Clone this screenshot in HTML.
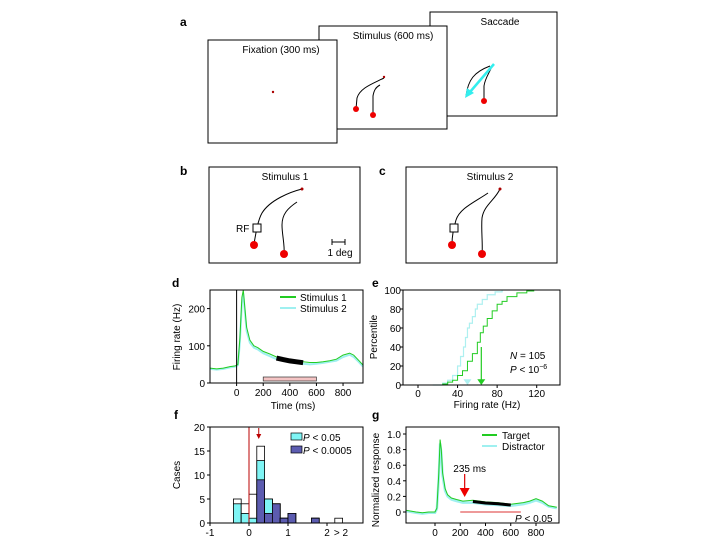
<!DOCTYPE html>
<html><head><meta charset="utf-8"><style>
body{margin:0;background:#fff}
svg{display:block;font-family:"Liberation Sans",Arial,sans-serif}
</style></head><body>
<svg id="fig" width="720" height="540" viewBox="0 0 720 540" xmlns="http://www.w3.org/2000/svg">
<!-- Panel a -->
<g>
<text x="180" y="26" font-size="12" font-weight="bold">a</text>
<rect x="430" y="12" width="127" height="104" fill="#fff" stroke="#000"/>
<text x="500" y="25" font-size="10" text-anchor="middle">Saccade</text>
<path d="M466,96 C468,80 474,72 490,66" fill="none" stroke="#000" stroke-width="1"/>
<path d="M484,100 L484,86 C485,78 490,72 492,66" fill="none" stroke="#000" stroke-width="1"/>
<circle cx="484" cy="101" r="3" fill="#e00"/>
<line x1="494" y1="64" x2="470" y2="92" stroke="#3ee" stroke-width="2.5"/>
<polygon points="465,98 467,88 474,93" fill="#3ee"/>
<rect x="319" y="26" width="128" height="103" fill="#fff" stroke="#000"/>
<text x="393" y="39" font-size="10" text-anchor="middle">Stimulus (600 ms)</text>
<path d="M356,109 L357,98 C360,88 372,84 384,78" fill="none" stroke="#000"/>
<path d="M373,115 L373,96 C374,90 376,87 380,85" fill="none" stroke="#000"/>
<circle cx="356" cy="109" r="3" fill="#e00"/><circle cx="373" cy="115" r="3" fill="#e00"/>
<circle cx="384" cy="77" r="1.2" fill="#a00"/>
<rect x="208" y="40" width="129" height="103" fill="#fff" stroke="#000"/>
<text x="281" y="53" font-size="10" text-anchor="middle">Fixation (300 ms)</text>
<circle cx="273" cy="92" r="1.2" fill="#a00"/>
</g>
<!-- Panel b -->
<g>
<text x="180" y="175" font-size="12" font-weight="bold">b</text>
<rect x="209" y="167" width="151" height="96" fill="#fff" stroke="#000"/>
<text x="285" y="180" font-size="10" text-anchor="middle">Stimulus 1</text>
<path d="M302,189 C290,192 270,200 262,213 C258,220 256,232 254,244" fill="none" stroke="#000"/>
<path d="M297,202 C288,208 282,214 282,225 C282,235 285,245 284,254" fill="none" stroke="#000"/>
<rect x="253" y="224" width="8" height="8" fill="#fff" stroke="#000"/>
<text x="236" y="232" font-size="10">RF</text>
<circle cx="254" cy="245" r="4" fill="#e00"/><circle cx="284" cy="254" r="4" fill="#e00"/>
<circle cx="302" cy="189" r="1.5" fill="#a00"/>
<line x1="332" y1="242" x2="345" y2="242" stroke="#000"/><line x1="332" y1="239" x2="332" y2="245" stroke="#000"/><line x1="345" y1="239" x2="345" y2="245" stroke="#000"/>
<text x="340" y="256" font-size="10" text-anchor="middle">1 deg</text>
</g>
<!-- Panel c -->
<g>
<text x="379" y="175" font-size="12" font-weight="bold">c</text>
<rect x="406" y="167" width="151" height="96" fill="#fff" stroke="#000"/>
<text x="490" y="180" font-size="10" text-anchor="middle">Stimulus 2</text>
<path d="M488,193 C475,202 460,208 456,220 C453,230 452,238 452,244" fill="none" stroke="#000"/>
<path d="M500,189 C495,200 484,205 482,218 C481,230 483,245 482,254" fill="none" stroke="#000"/>
<rect x="450" y="224" width="8" height="8" fill="#fff" stroke="#000"/>
<circle cx="452" cy="245" r="4" fill="#e00"/><circle cx="482" cy="254" r="4" fill="#e00"/>
<circle cx="500" cy="189" r="1.5" fill="#a00"/>
</g>
<g id="charts"></g>
</svg>
<script>
// ---- Panel d data ----
const dTimes = [-200,-150,-100,-50,-10,10,25,40,50,60,75,100,130,160,200,250,300,350,400,450,500,550,600,650,700,750,800,850,880,920,950];
const dStim1 = [40,38,40,44,46,50,120,230,250,210,150,115,100,95,85,78,70,66,62,60,57,55,55,57,60,64,75,80,75,60,48];
const dStim2 = [38,36,38,42,44,48,110,215,240,200,140,108,95,90,80,72,64,60,57,54,52,50,52,54,57,60,70,76,70,56,44];
const dSigStart = 280, dSigEnd = 530;
const dYTicks = [0,100,200];
const dXTicks = [0,200,400,600,800];
// ---- Panel e data ----
const eRates1 = [10,25,30,35,40,45,50,55,60,63,66,70,75,80,85,90,100,110,117];
const ePct1 =   [0, 1, 3, 5, 10,15,25,33,45,55,62,70,78,85,88,93, 97, 99, 100];
const eRates2 = [15,25,30,35,40,43,46,48,50,52,55,58,60,65,70,78,85];
const ePct2 =   [0, 2, 5, 10,20,30,40,50,60,65,72,80,85,90,95,98,100];
const eMed1 = 64, eMed2 = 50;
const eXTicks = [0,40,80,120];
const eYTicks = [0,20,40,60,80,100];
// ---- Panel f data ----
const fBinStarts = [-0.4,-0.2,0,0.2,0.4,0.6,0.8,1.0,1.6,2.2];
const fTotal = [5,4,6,16,5,4,1,2,1,1];
const fCyan  = [4,2,1,13,5,4,1,2,1,0];
const fBlue  = [0,0,0,9,2,4,1,2,1,0];
const fYTicks = [0,5,10,15,20];
const fXTicks = ["-1","0","1","2"];
const fXTickVals = [-1,0,1,2];
// ---- Panel g data ----
const gTimes = [-225,-150,-100,-50,0,15,30,40,50,60,80,100,130,170,220,300,400,500,600,700,750,800,850,900,965];
const gTarget = [0.02,0,-0.01,0,0,0.05,0.5,0.93,0.8,0.5,0.3,0.22,0.18,0.16,0.14,0.15,0.13,0.12,0.1,0.12,0.14,0.17,0.14,0.08,0.06];
const gDistr  = [0.01,-0.01,-0.02,-0.01,-0.01,0.04,0.45,0.88,0.76,0.46,0.27,0.2,0.16,0.14,0.12,0.12,0.1,0.09,0.08,0.1,0.12,0.15,0.12,0.07,0.05];
const gLatency = 235;
const gYTicks = [0,0.2,0.4,0.6,0.8,1.0];
const gXTicks = [0,200,400,600,800];

const NS='http://www.w3.org/2000/svg';
const root=document.getElementById('charts');
function mk(tag,attrs,parent){const e=document.createElementNS(NS,tag);for(const k in attrs)e.setAttribute(k,attrs[k]);(parent||root).appendChild(e);return e;}
function txt(x,y,s,size,anchor,parent){const t=mk('text',{x:x,y:y,'font-size':size,'text-anchor':anchor||'middle'},parent);t.textContent=s;return t;}
function lin(d0,d1,r0,r1){return v=>r0+(v-d0)*(r1-r0)/(d1-d0);}
function pathOf(xs,ys,X,Y){return xs.map((v,i)=>(i?'L':'M')+X(v).toFixed(1)+','+Y(ys[i]).toFixed(1)).join('');}
function stepOf(xs,ys,X,Y){let d='M'+X(xs[0])+','+Y(ys[0]);for(let i=1;i<xs.length;i++){d+='L'+X(xs[i])+','+Y(ys[i-1])+'L'+X(xs[i])+','+Y(ys[i]);}return d;}

// ===== Panel d =====
{
const g=mk('g',{});


const X=lin(-200,950,210,363), Y=lin(0,250,383,290);
const l=txt(172,287,'d',12,'start',g); l.setAttribute('font-weight','bold');


const c1=mk('path',{d:pathOf(dTimes,dStim2,X,Y),fill:'none',stroke:'#9ff0f0','stroke-width':2},g);


const c2=mk('path',{d:pathOf(dTimes,dStim1,X,Y),fill:'none',stroke:'#2c2','stroke-width':1},g);


const si=[];dTimes.forEach((t,i)=>{if(t>=dSigStart&&t<=dSigEnd)si.push(i);});
const sig=mk('path',{d:pathOf(si.map(i=>dTimes[i]),si.map(i=>(dStim1[i]+dStim2[i])/2),X,Y),fill:'none',stroke:'#000','stroke-width':5},g);


mk('line',{x1:X(0),y1:290,x2:X(0),y2:383,stroke:'#000'},g);
const bar=mk('rect',{x:X(200),y:377,width:X(600)-X(200),height:4,fill:'#f4c4c4',stroke:'#333','stroke-width':0.7},g);


mk('rect',{x:210,y:290,width:153,height:93,fill:'none',stroke:'#000'},g);
dYTicks.forEach(v=>{mk('line',{x1:207,x2:210,y1:Y(v),y2:Y(v),stroke:'#000'},g);txt(205,Y(v)+4,String(v),10,'end',g);});
dXTicks.forEach(v=>{mk('line',{x1:X(v),x2:X(v),y1:383,y2:386,stroke:'#000'},g);txt(X(v),396,String(v),10,'middle',g);});
const xt=txt(293,409,'Time (ms)',10,'middle',g);


const yt=txt(0,0,'Firing rate (Hz)',10,'middle',g);yt.setAttribute('transform','translate(180,337) rotate(-90)');


mk('line',{x1:280,x2:296,y1:297,y2:297,stroke:'#2c2','stroke-width':2},g);txt(300,301,'Stimulus 1',10,'start',g);
mk('line',{x1:280,x2:296,y1:308,y2:308,stroke:'#9ff0f0','stroke-width':2},g);txt(300,312,'Stimulus 2',10,'start',g);
}
// ===== Panel e =====
{
const g=mk('g',{});


const X=lin(0,120,418,536.7), Y=lin(0,100,385,290);
const l=txt(372,287,'e',12,'start',g); l.setAttribute('font-weight','bold');


const c2=mk('path',{d:stepOf(eRates2,ePct2,X,Y),fill:'none',stroke:'#aef0f0','stroke-width':1.2},g);


const c1=mk('path',{d:stepOf(eRates1,ePct1,X,Y),fill:'none',stroke:'#2c2','stroke-width':1},g);


mk('line',{x1:X(eMed1),x2:X(eMed1),y1:Y(40),y2:Y(3),stroke:'#2c2','stroke-width':1.2},g);
const a1=mk('polygon',{points:`${X(eMed1)-4},${Y(6)} ${X(eMed1)+4},${Y(6)} ${X(eMed1)},${Y(0)}`,fill:'#2c2'},g);


const a2=mk('polygon',{points:`${X(eMed2)-4},${Y(6)} ${X(eMed2)+4},${Y(6)} ${X(eMed2)},${Y(0)}`,fill:'#aef0f0'},g);


mk('rect',{x:403,y:290,width:157,height:95,fill:'none',stroke:'#000'},g);
eYTicks.forEach(v=>{mk('line',{x1:400,x2:403,y1:Y(v),y2:Y(v),stroke:'#000'},g);txt(401,Y(v)+4,String(v),10,'end',g);});
eXTicks.forEach(v=>{mk('line',{x1:X(v),x2:X(v),y1:385,y2:388,stroke:'#000'},g);txt(X(v),397,String(v),10,'middle',g);});
const xt=txt(487,408,'Firing rate (Hz)',10,'middle',g);


const yt=txt(0,0,'Percentile',10,'middle',g);yt.setAttribute('transform','translate(377,337) rotate(-90)');


const n=mk('text',{x:510,y:359,'font-size':10},g);n.innerHTML='<tspan font-style="italic">N</tspan> = 105';
const p=mk('text',{x:510,y:373,'font-size':10},g);p.innerHTML='<tspan font-style="italic">P</tspan> &lt; 10<tspan dy="-4" font-size="7">−6</tspan>';
}
// ===== Panel f =====
{
const g=mk('g',{});


const X=lin(-1,2,210,327), Y=lin(0,20,523,427);
const bw=0.2;
const l=txt(174,419,'f',12,'start',g); l.setAttribute('font-weight','bold');


fBinStarts.forEach((b,i)=>{
  const x=X(b),w=X(b+bw)-X(b);
  const r=mk('rect',{x:x,y:Y(fTotal[i]),width:w,height:Y(0)-Y(fTotal[i]),fill:'#fff',stroke:'#000','stroke-width':0.8},g);
  
  
  if(fCyan[i]>0){const c=mk('rect',{x:x,y:Y(fCyan[i]),width:w,height:Y(0)-Y(fCyan[i]),fill:'#7ff5f5',stroke:'#000','stroke-width':0.8},g);
  
  }
  if(fBlue[i]>0){const c=mk('rect',{x:x,y:Y(fBlue[i]),width:w,height:Y(0)-Y(fBlue[i]),fill:'#5c5cb0',stroke:'#000','stroke-width':0.8},g);
  
  }
});
const rl=mk('line',{x1:X(0),x2:X(0),y1:427,y2:523,stroke:'#b00','stroke-width':1},g);


mk('line',{x1:X(0.25),x2:X(0.25),y1:428,y2:436,stroke:'#b00'},g);
mk('polygon',{points:`${X(0.25)-2.5},434 ${X(0.25)+2.5},434 ${X(0.25)},439`,fill:'#b00'},g);
mk('rect',{x:210,y:427,width:153,height:96,fill:'none',stroke:'#000'},g);
fYTicks.forEach(v=>{mk('line',{x1:207,x2:210,y1:Y(v),y2:Y(v),stroke:'#000'},g);txt(205,Y(v)+4,String(v),10,'end',g);});
fXTickVals.forEach((v,i)=>{mk('line',{x1:X(v),x2:X(v),y1:523,y2:526,stroke:'#000'},g);txt(X(v),536,fXTicks[i],10,'middle',g);});
txt(341,536,'> 2',10,'middle',g);
const yt=txt(0,0,'Cases',10,'middle',g);yt.setAttribute('transform','translate(180,475) rotate(-90)');


mk('rect',{x:291,y:433,width:11,height:7,fill:'#7ff5f5',stroke:'#000','stroke-width':0.7},g);
const t1=mk('text',{x:303,y:441,'font-size':10},g);t1.innerHTML='<tspan font-style="italic">P</tspan> &lt; 0.05';
mk('rect',{x:291,y:446,width:11,height:7,fill:'#5c5cb0',stroke:'#000','stroke-width':0.7},g);
const t2=mk('text',{x:303,y:454,'font-size':10},g);t2.innerHTML='<tspan font-style="italic">P</tspan> &lt; 0.0005';
}
// ===== Panel g =====
{
const g=mk('g',{});


const X=lin(0,800,435,536), Y=lin(0,1,512,434);
const l=txt(372,419,'g',12,'start',g); l.setAttribute('font-weight','bold');


const c2=mk('path',{d:pathOf(gTimes,gDistr,X,Y),fill:'none',stroke:'#9ff0f0','stroke-width':2.5},g);


const c1=mk('path',{d:pathOf(gTimes,gTarget,X,Y),fill:'none',stroke:'#2c2','stroke-width':1},g);


const si=[];gTimes.forEach((t,i)=>{if(t>=gLatency&&t<=600)si.push(i);});
const sig=mk('path',{d:pathOf(si.map(i=>gTimes[i]),si.map(i=>(gTarget[i]+gDistr[i])/2),X,Y),fill:'none',stroke:'#000','stroke-width':3},g);


const rl=mk('line',{x1:X(200),x2:X(680),y1:Y(0),y2:Y(0),stroke:'#d33','stroke-width':1},g);


mk('line',{x1:X(gLatency),x2:X(gLatency),y1:474,y2:490,stroke:'#d00','stroke-width':1.2},g);
const ar=mk('polygon',{points:`${X(gLatency)-5},488 ${X(gLatency)+5},488 ${X(gLatency)},497`,fill:'#e00'},g);


txt(X(gLatency)+5,472,gLatency+' ms',10,'middle',g);
mk('rect',{x:406,y:427,width:153,height:96,fill:'none',stroke:'#000'},g);
gYTicks.forEach(v=>{mk('line',{x1:403,x2:406,y1:Y(v),y2:Y(v),stroke:'#000'},g);txt(401,Y(v)+4,v===0?'0':v.toFixed(1),10,'end',g);});
gXTicks.forEach(v=>{mk('line',{x1:X(v),x2:X(v),y1:523,y2:526,stroke:'#000'},g);txt(X(v),536,String(v),10,'middle',g);});
const yt=txt(0,0,'Normalized response',10,'middle',g);yt.setAttribute('transform','translate(379,480) rotate(-90)');


mk('line',{x1:482,x2:497,y1:435,y2:435,stroke:'#2c2','stroke-width':2},g);txt(502,439,'Target',10,'start',g);
mk('line',{x1:482,x2:497,y1:446,y2:446,stroke:'#9ff0f0','stroke-width':2},g);txt(502,450,'Distractor',10,'start',g);
const p=mk('text',{x:515,y:522,'font-size':10},g);p.innerHTML='<tspan font-style="italic">P</tspan> &lt; 0.05';
}
</script>
</body></html>
